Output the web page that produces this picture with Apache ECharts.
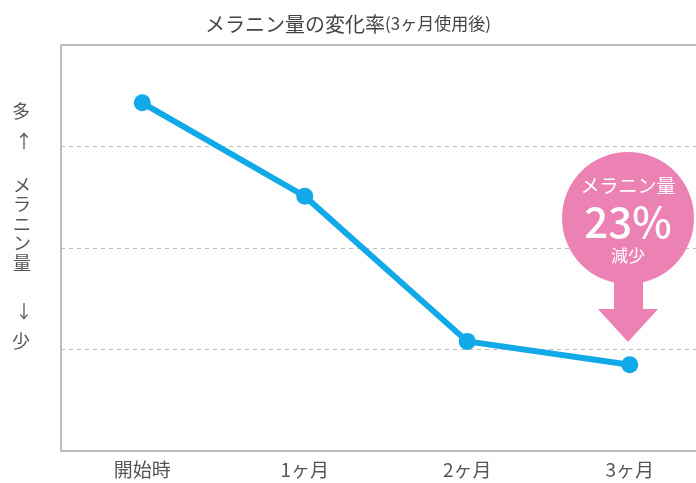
<!DOCTYPE html>
<html>
<head>
<meta charset="utf-8">
<script src="https://cdn.jsdelivr.net/npm/echarts@6/dist/echarts.min.js"></script>
<style>
  html, body { margin: 0; padding: 0; background: #fff; }
  #main { width: 696px; height: 483px; }
</style>
</head>
<body>
<div id="main"></div>
<script>
// チャートのデータ
var months = ['開始時', '1ヶ月', '2ヶ月', '3ヶ月'];
var melanin = [3.43, 2.51, 1.08, 0.85];
var yTicks = [0, 1, 2, 3, 4];

var font = '"Noto Sans CJK JP", "Noto Sans", sans-serif';
var pink = '#eb82b3';

var myChart = echarts.init(document.getElementById('main'));

var option = {
    backgroundColor: '#fff',
    animation: false,
    title: {
        text: '{a|メラニン量の変化率}{b|(3ヶ月使用後)}',
        left: 'center',
        top: 9,
        textStyle: {
            rich: {
                a: { fontFamily: font, fontSize: 20, fontWeight: 'normal', color: '#444' },
                b: { fontFamily: font, fontSize: 17, fontWeight: 'normal', color: '#444' }
            }
        }
    },
    grid: {
        left: 61,
        width: 650,
        top: 45,
        bottom: 32,
        outerBoundsMode: 'none', // 右端を画面外へ
        show: true,
        borderColor: '#aaa',
        borderWidth: 1.5,
        backgroundColor: '#fff'
    },
    xAxis: {
        type: 'category',
        data: months,
        boundaryGap: true,
        axisLine: { show: false },
        axisTick: { show: false },
        axisLabel: {
            fontFamily: font,
            fontSize: 19,
            color: '#555',
            margin: 9
        }
    },
    yAxis: {
        type: 'value',
        min: yTicks[0],
        max: yTicks[yTicks.length - 1],
        interval: 1,
        axisLine: { show: false },
        axisTick: { show: false },
        axisLabel: { show: false },
        splitLine: {
            lineStyle: { color: '#bbb', type: [4, 4], width: 1 }
        }
    },
    series: [{
        type: 'line',
        data: melanin,
        symbol: 'circle',
        symbolSize: 17,
        lineStyle: { color: '#12a9e9', width: 6 },
        itemStyle: { color: '#12a9e9' },
        z: 3
    }],
    graphic: [
        // 縦の軸名
        { type: 'text', left: 12, top: 102, style: { text: '多', font: '18px ' + font, fill: '#555' } },
        { type: 'text', left: 15, top: 132, style: { text: '↑', font: '18px ' + font, fill: '#555' } },
        { type: 'text', left: 13, top: 175, style: { text: 'メ\nラ\nニ\nン\n量', font: '18px ' + font, fill: '#555', lineHeight: 19.5 } },
        { type: 'text', left: 15, top: 302, style: { text: '↓', font: '18px ' + font, fill: '#555' } },
        { type: 'text', left: 12, top: 332, style: { text: '少', font: '18px ' + font, fill: '#555' } },
        // ピンクの吹き出し
        { type: 'circle', shape: { cx: 628, cy: 218, r: 66 }, style: { fill: pink }, z: 10 },
        { type: 'rect', shape: { x: 614, y: 270, width: 29, height: 42 }, style: { fill: pink }, z: 10 },
        { type: 'polygon', shape: { points: [[598, 309], [658, 309], [628, 342]] }, style: { fill: pink }, z: 10 },
        { type: 'text', x: 628, y: 186, style: { text: 'メラニン量', font: '19px ' + font, fill: '#fff', align: 'center', verticalAlign: 'middle' }, z: 11 },
        { type: 'text', x: 628, y: 222, style: { text: '23%', font: '500 42px ' + font, fill: '#fff', align: 'center', verticalAlign: 'middle' }, z: 11 },
        { type: 'text', x: 628, y: 256, style: { text: '減少', font: '17px ' + font, fill: '#fff', align: 'center', verticalAlign: 'middle' }, z: 11 }
    ]
};

myChart.setOption(option);
</script>
</body>
</html>
